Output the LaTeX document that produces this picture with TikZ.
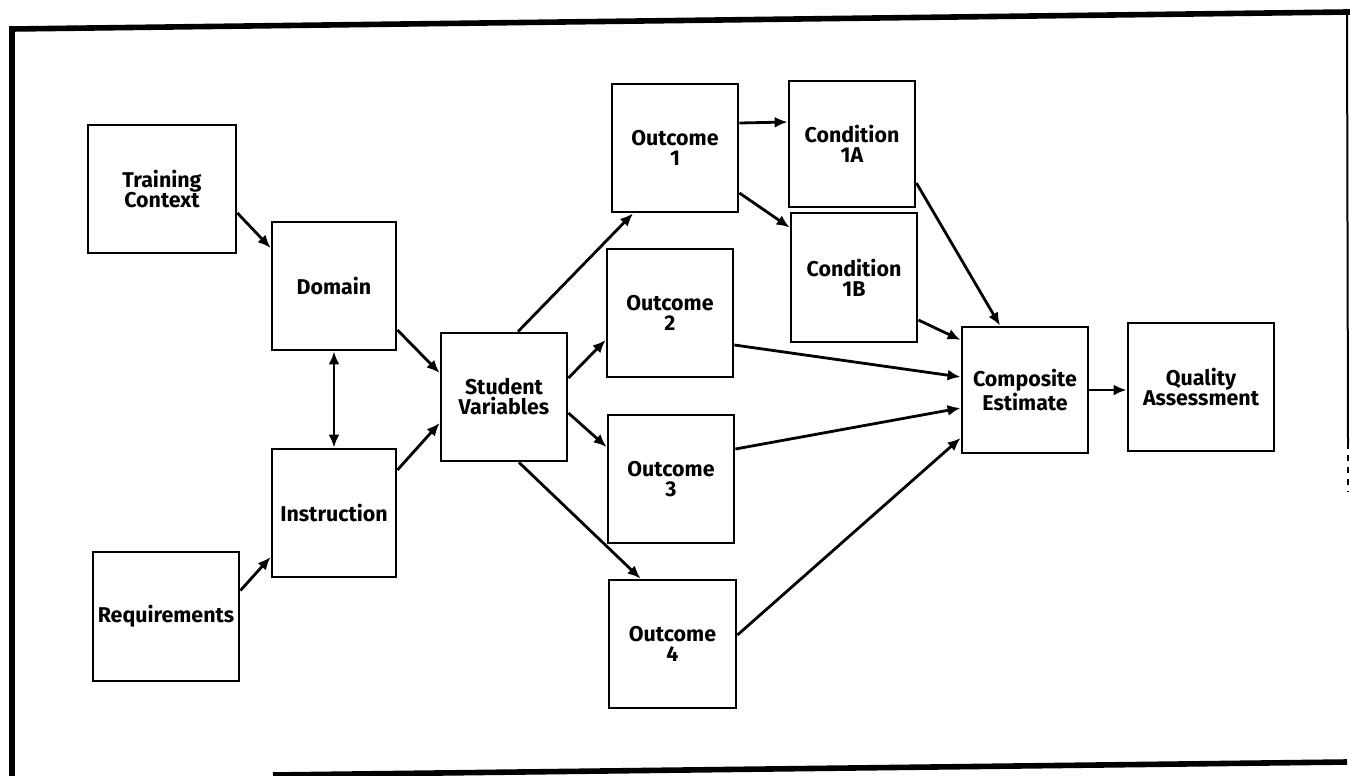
\documentclass[tikz,border=0pt]{standalone}
\usepackage{fontspec}
\setmainfont{Fira Sans}
\usetikzlibrary{arrows.meta,calc}
\begin{document}
\begin{tikzpicture}[x=0.5pt,y=-0.5pt,
  box/.style={draw,line width=1.4pt,inner sep=0pt,align=center,
    font=\bfseries\fontsize{10.7pt}{10pt}\selectfont},
  conn/.style={line width=1.4pt,-{Latex[length=6.5pt,width=5.5pt]}},
  frame/.style={line width=2.8pt}]
\useasboundingbox (0,0) rectangle (1350,776);
% frame
\coordinate (f1) at (12,29);
\coordinate (f2) at (1347,12);
\coordinate (f3) at (1348,443);
\coordinate (f4) at (1348,492);
\coordinate (f5) at (12,776);
\coordinate (b1) at (273,775);
\coordinate (b2) at (1347,762);
\draw[frame,line cap=rect] (f5) -- (f1) -- (f2);
\draw[line width=1pt] (f2) -- (f3);
\draw[line width=0.8pt,dashed] (f3) -- (f4);
\draw[frame] (b1) -- (b2);
% boxes
\node[box,minimum width=148*0.5pt,minimum height=128*0.5pt] (tc) at (162,189) {Training\\Context};
\node[box,minimum width=124*0.5pt,minimum height=128*0.5pt] (dom) at (334,286) {Domain};
\node[box,minimum width=124*0.5pt,minimum height=128*0.5pt] (ins) at (334,513) {Instruction};
\node[box,minimum width=146*0.5pt,minimum height=129*0.5pt] (req) at (166,616.5) {Requirements};
\node[box,minimum width=126*0.5pt,minimum height=128*0.5pt] (sv) at (504,397) {Student\\Variables};
\node[box,minimum width=126*0.5pt,minimum height=128*0.5pt] (o1) at (675,148) {Outcome\\1};
\node[box,minimum width=126*0.5pt,minimum height=128*0.5pt] (o2) at (670,313) {Outcome\\2};
\node[box,minimum width=126*0.5pt,minimum height=128*0.5pt] (o3) at (671,479) {Outcome\\3};
\node[box,minimum width=127*0.5pt,minimum height=128*0.5pt] (o4) at (672.5,644) {Outcome\\4};
\node[box,minimum width=126*0.5pt,minimum height=126*0.5pt] (c1a) at (852,144) {Condition\\1A};
\node[box,minimum width=126*0.5pt,minimum height=129*0.5pt] (c1b) at (854,277.5) {Condition\\1B};
\node[box,minimum width=126*0.5pt,minimum height=126*0.5pt] (ce) at (1025,390) {Composite\\Estimate};
\node[box,minimum width=146*0.5pt,minimum height=128*0.5pt] (qa) at (1201,387) {Quality\\Assessment};
% connectors
\draw[conn] ($(tc.east)+(0,24)$) -- ($(dom.west)+(0,-38)$);
\draw[conn] ($(dom.east)+(0,44)$) -- ($(sv.west)+(0,-24)$);
\draw[conn] ($(ins.east)+(0,-43)$) -- ($(sv.west)+(0,26)$);
\draw[conn] ($(req.east)+(0,-26)$) -- ($(ins.west)+(0,44)$);
\draw[line width=1.4pt,{Latex[length=6.5pt,width=5.5pt]}-{Latex[length=6.5pt,width=5.5pt]}] (dom.south) -- (ins.north);
\draw[conn] ($(sv.north)+(14,0)$) -- ($(o1.south)+(-42,0)$);
\draw[conn] ($(sv.east)+(0,-19)$) -- ($(o2.west)+(0,27)$);
\draw[conn] ($(sv.east)+(0,16)$) -- ($(o3.west)+(0,-32)$);
\draw[conn] ($(sv.south)+(15,0)$) -- ($(o4.north)+(-32,0)$);
\draw[conn] ($(o1.east)+(0,-25)$) -- ($(c1a.west)+(0,-22)$);
\draw[conn] ($(o1.east)+(0,45)$) -- ($(c1b.west)+(0,-50)$);
\draw[conn] ($(c1a.east)+(0,39)$) -- ($(ce.north)+(-25,0)$);
\draw[conn] ($(c1b.east)+(0,42.5)$) -- ($(ce.west)+(0,-50)$);
\draw[conn] ($(o2.east)+(0,32)$) -- ($(ce.west)+(0,-13)$);
\draw[conn] ($(o3.east)+(0,-30)$) -- ($(ce.west)+(0,18)$);
\draw[conn] ($(o4.east)+(0,-9)$) -- ($(ce.west)+(0,48)$);
\draw[conn] (ce.east) -- (ce.east -| qa.west);
\end{tikzpicture}
\end{document}
